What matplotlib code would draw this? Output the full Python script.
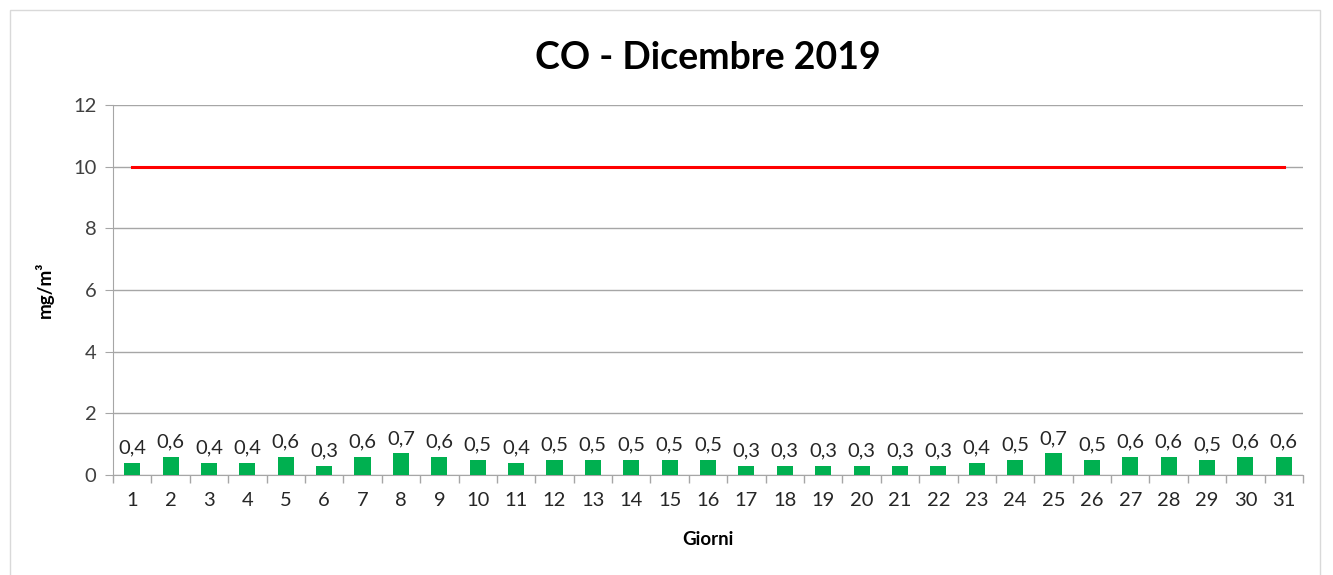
import matplotlib.pyplot as plt
from matplotlib.patches import Rectangle

# daily CO values, December 2019
giorni = list(range(1, 32))
valori = [0.4, 0.6, 0.4, 0.4, 0.6, 0.3, 0.6, 0.7, 0.6, 0.5, 0.4, 0.5, 0.5, 0.5, 0.5, 0.5,
          0.3, 0.3, 0.3, 0.3, 0.3, 0.3, 0.4, 0.5, 0.7, 0.5, 0.6, 0.6, 0.5, 0.6, 0.6]
limite = [10] * len(giorni)

plt.rcParams['font.family'] = ['Lato', 'DejaVu Sans']

fig = plt.figure(figsize=(13.33, 5.75), dpi=100)
fig.patches.append(Rectangle((0.0075, -0.01), 0.983, 0.993, transform=fig.transFigure,
                             fill=False, edgecolor='#d9d9d9', linewidth=1))
ax = fig.add_axes([0.0848, 0.1739, 0.8927, 0.6435])

x = list(range(len(giorni)))
bars = ax.bar(x, valori, width=0.42, color='#00B050', zorder=3)
ax.plot(x, limite, color='#FF0000', linewidth=2.2, zorder=4)

for xi, v in zip(x, valori):
    ax.text(xi, v + 0.2, f"{v:.1f}".replace('.', ','), ha='center', va='bottom',
            fontsize=14.5, color='#262626')

ax.set_xlim(-0.5, len(giorni) - 0.5)
ax.set_ylim(0, 12)
ax.set_yticks(range(0, 13, 2))
ax.set_xticks(x)
ax.set_xticklabels([str(g) for g in giorni])
ax.set_xticks([i - 0.5 for i in range(len(giorni) + 1)], minor=True)
ax.tick_params(axis='x', which='major', length=0, pad=12, labelsize=14.5, colors='#262626')
ax.tick_params(axis='x', which='minor', length=6, color='#a6a6a6', width=1)
ax.tick_params(axis='y', length=6, color='#a6a6a6', labelsize=14.5, labelcolor='#404040', pad=6)

ax.grid(axis='y', color='#a6a6a6', linewidth=1, zorder=0)
for side in ['top', 'right']:
    ax.spines[side].set_visible(False)
ax.spines['left'].set_color('#a6a6a6')
ax.spines['bottom'].set_color('#a6a6a6')

ax.set_title('CO - Dicembre 2019', fontsize=27, fontweight='bold', pad=26)
ax.set_xlabel('Giorni', fontsize=13.5, fontweight='bold', labelpad=16)
ax.set_ylabel('mg/m³', fontsize=13.5, fontweight='bold', labelpad=14)

plt.savefig('out.png', dpi=100)
